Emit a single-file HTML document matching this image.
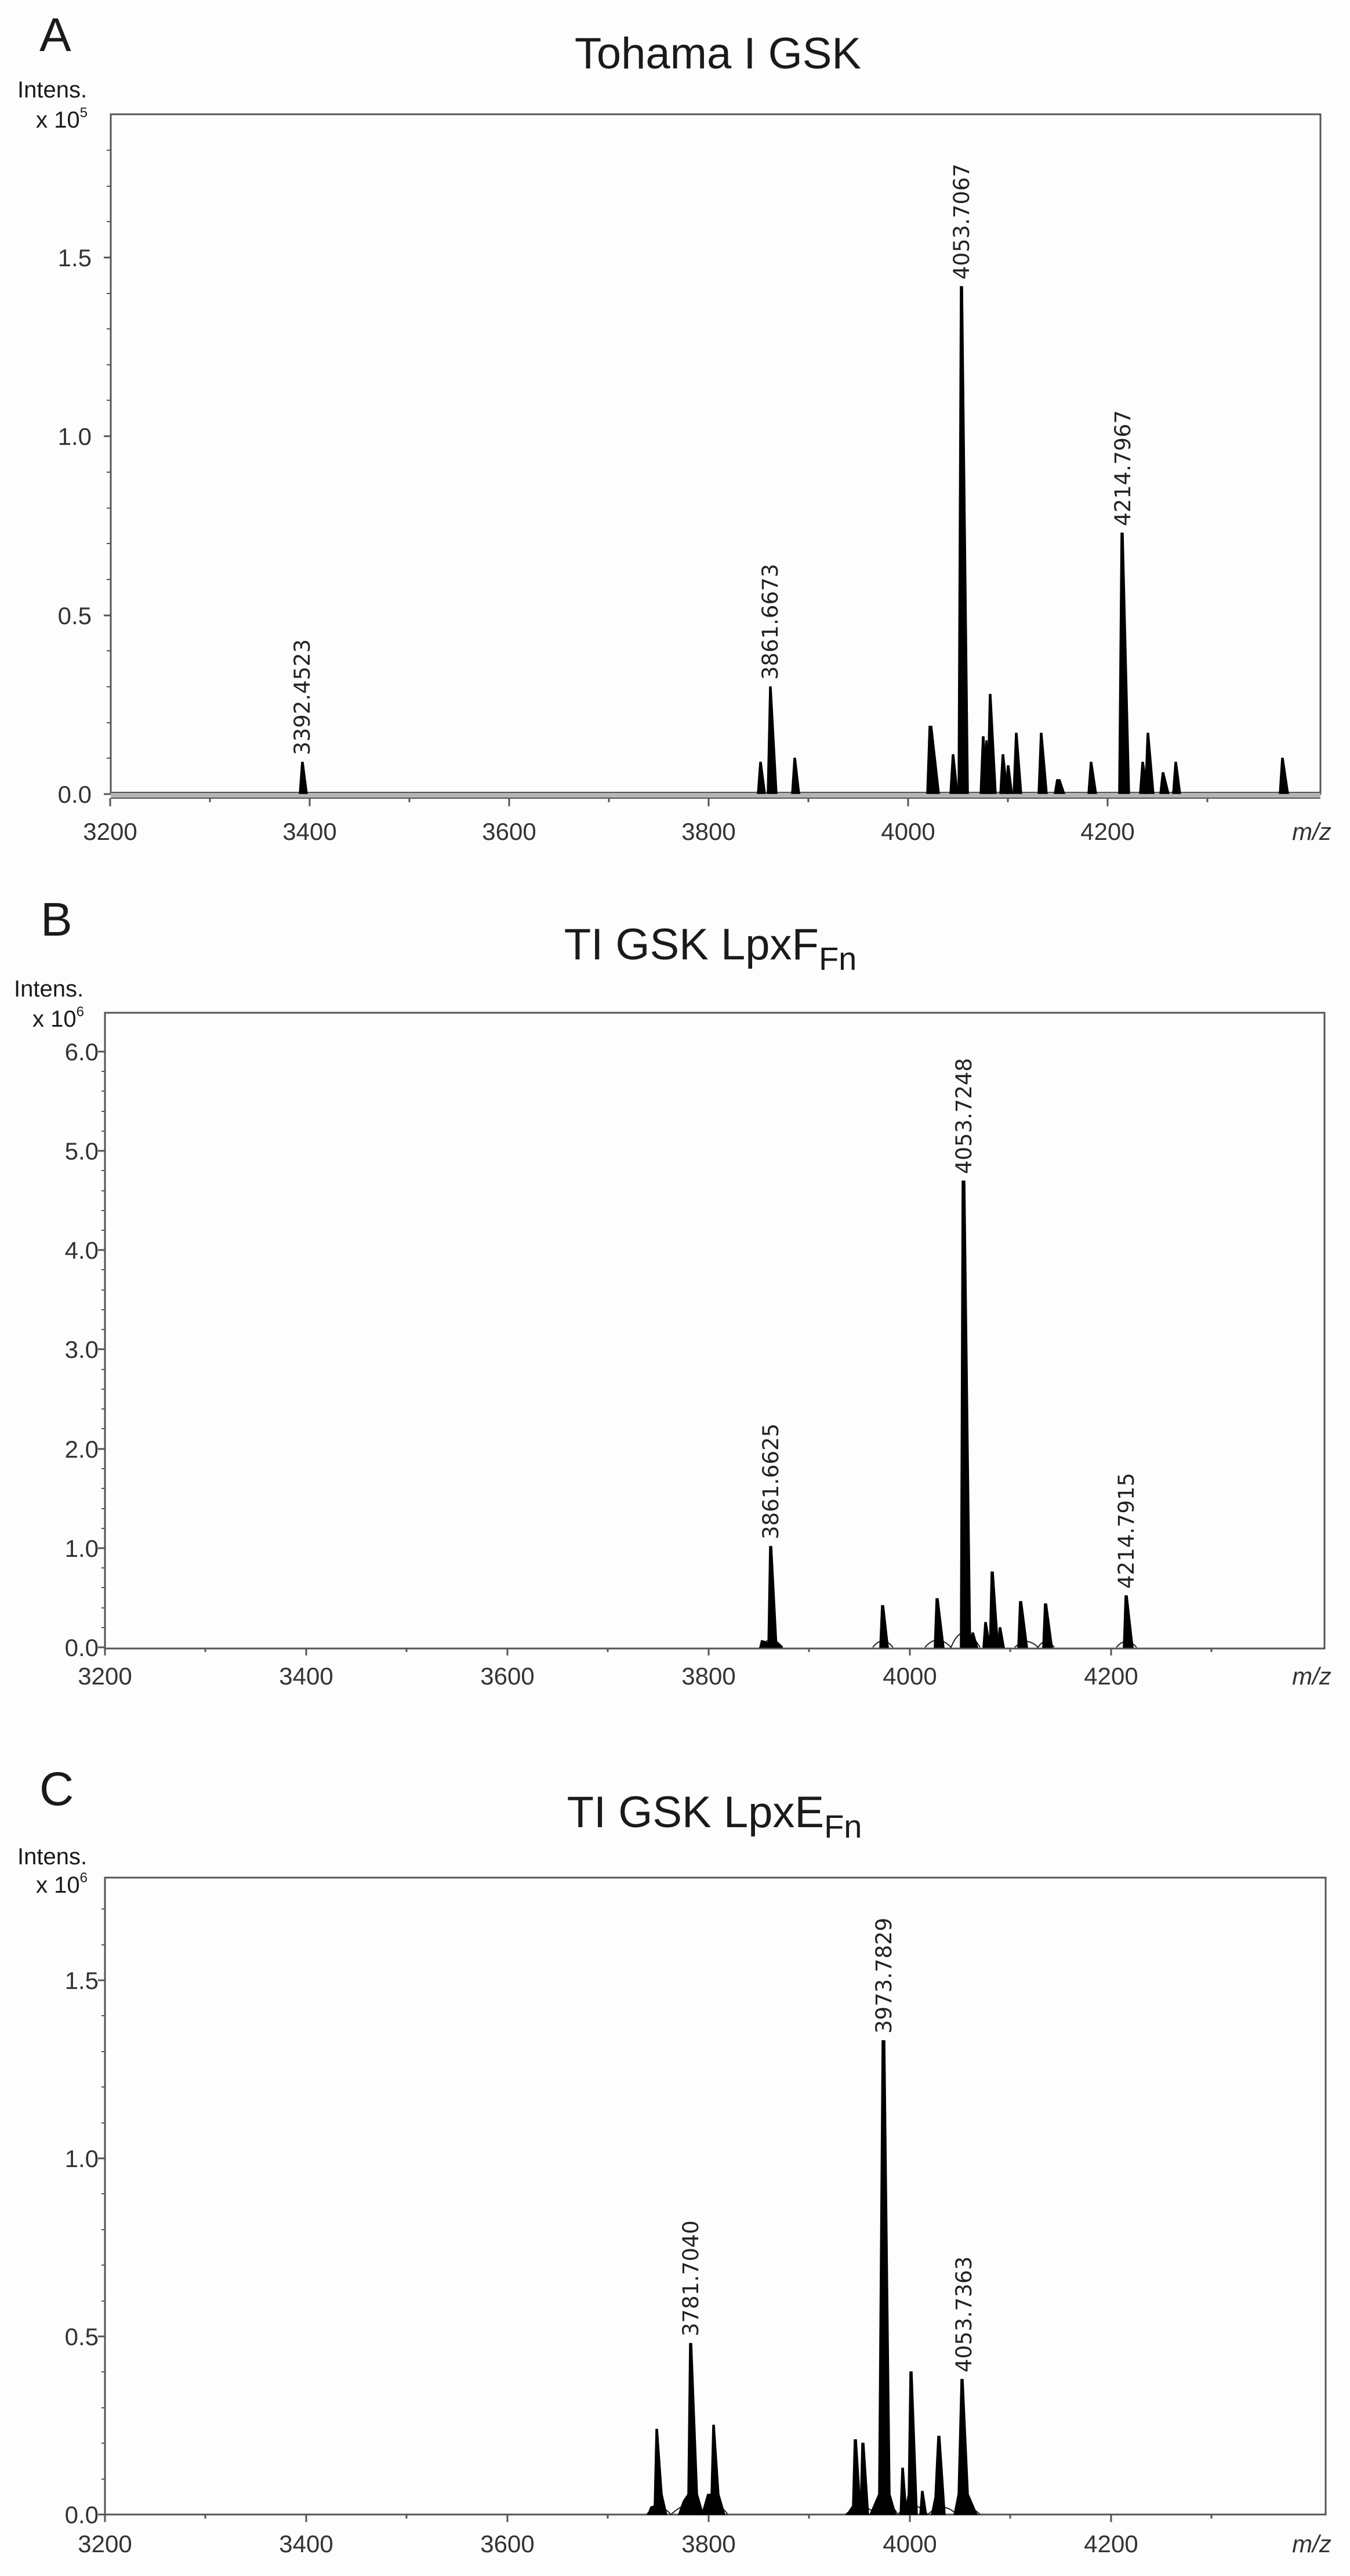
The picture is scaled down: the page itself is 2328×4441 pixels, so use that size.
<!DOCTYPE html>
<html><head><meta charset="utf-8"><style>
html,body{margin:0;padding:0;background:#fdfdfd;}
svg{display:block;}
.t{font-family:"Liberation Sans",sans-serif;fill:#1a1a1a;}
.tk{font-family:"Liberation Sans",sans-serif;font-size:42px;fill:#333;}
.lb{font-family:"DejaVu Sans",sans-serif;font-size:37px;fill:#222;}
.ax{stroke:#555;stroke-width:3;fill:none;}
.pk{fill:#000;stroke:#000;stroke-width:1.5;}
</style></head><body>
<svg width="2328" height="4441" viewBox="0 0 2328 4441" xmlns="http://www.w3.org/2000/svg">
<rect width="2328" height="4441" fill="#fdfdfd"/>

<!-- ================= PANEL A ================= -->
<text class="t" x="68" y="88" font-size="82">A</text>
<text class="t" x="1238" y="118" font-size="76" text-anchor="middle">Tohama I GSK</text>
<text class="t" x="30" y="168" font-size="40">Intens.</text>
<text class="t" x="62" y="220" font-size="40">x 10<tspan font-size="24" dy="-18">5</tspan></text>
<rect x="191" y="197" width="2086" height="1172" fill="none" stroke="#555" stroke-width="3"/>
<rect x="191" y="1366" width="2086" height="10" fill="#b5b5b5"/>
<line x1="191" y1="1366" x2="2277" y2="1366" stroke="#555" stroke-width="2"/>
<line x1="191" y1="1376" x2="2277" y2="1376" stroke="#555" stroke-width="2"/>
<g stroke="#555" stroke-width="3">
<line x1="179" y1="1369" x2="191" y2="1369"/><line x1="179" y1="1061" x2="191" y2="1061"/><line x1="179" y1="752" x2="191" y2="752"/><line x1="179" y1="444" x2="191" y2="444"/>
</g>
<g stroke="#555" stroke-width="2">
<line x1="184" y1="1307" x2="191" y2="1307"/><line x1="184" y1="1246" x2="191" y2="1246"/><line x1="184" y1="1184" x2="191" y2="1184"/><line x1="184" y1="1122" x2="191" y2="1122"/>
<line x1="184" y1="999" x2="191" y2="999"/><line x1="184" y1="937" x2="191" y2="937"/><line x1="184" y1="876" x2="191" y2="876"/><line x1="184" y1="814" x2="191" y2="814"/>
<line x1="184" y1="690" x2="191" y2="690"/><line x1="184" y1="629" x2="191" y2="629"/><line x1="184" y1="567" x2="191" y2="567"/><line x1="184" y1="506" x2="191" y2="506"/>
<line x1="184" y1="382" x2="191" y2="382"/><line x1="184" y1="321" x2="191" y2="321"/><line x1="184" y1="259" x2="191" y2="259"/>
</g>
<g class="tk" text-anchor="end">
<text x="158" y="1384">0.0</text><text x="158" y="1076">0.5</text><text x="158" y="767">1.0</text><text x="158" y="459">1.5</text>
</g>
<g stroke="#555" stroke-width="3">
<line x1="190" y1="1376" x2="190" y2="1390"/><line x1="534" y1="1376" x2="534" y2="1390"/><line x1="878" y1="1376" x2="878" y2="1390"/><line x1="1222" y1="1376" x2="1222" y2="1390"/><line x1="1566" y1="1376" x2="1566" y2="1390"/><line x1="1910" y1="1376" x2="1910" y2="1390"/>
<line x1="362" y1="1376" x2="362" y2="1383"/><line x1="706" y1="1376" x2="706" y2="1383"/><line x1="1050" y1="1376" x2="1050" y2="1383"/><line x1="1394" y1="1376" x2="1394" y2="1383"/><line x1="1738" y1="1376" x2="1738" y2="1383"/><line x1="2082" y1="1376" x2="2082" y2="1383"/>
</g>
<g class="tk" text-anchor="middle">
<text x="190" y="1448">3200</text><text x="534" y="1448">3400</text><text x="878" y="1448">3600</text><text x="1222" y="1448">3800</text><text x="1566" y="1448">4000</text><text x="1910" y="1448">4200</text>
</g>
<text class="tk" x="2262" y="1448" text-anchor="middle" font-style="italic">m/z</text>
<g class="pk">
<polygon points="516,1368 520,1314 523,1314 530,1368"/>
<polygon points="1306,1368 1310,1314 1313,1314 1320,1368"/>
<polygon points="1323,1368 1327,1184 1330,1184 1340,1368"/>
<polygon points="1365,1368 1369,1307 1372,1307 1379,1368"/>
<polygon points="1598,1368 1602,1252 1607,1252 1620,1368"/>
<polygon points="1638,1368 1642,1301 1645,1301 1652,1368"/>
<polygon points="1652,1368 1656,494 1660,494 1670,1368"/>
<polygon points="1690,1368 1694,1270 1697,1270 1703,1368"/>
<polygon points="1696,1368 1700,1277 1702,1277 1708,1368"/>
<polygon points="1702,1368 1706,1197 1709,1197 1718,1368"/>
<polygon points="1724,1368 1728,1301 1731,1301 1738,1368"/>
<polygon points="1734,1368 1737,1320 1740,1320 1746,1368"/>
<polygon points="1747,1368 1751,1264 1754,1264 1762,1368"/>
<polygon points="1790,1368 1794,1264 1797,1264 1806,1368"/>
<polygon points="1818,1368 1822,1344 1828,1344 1836,1368"/>
<polygon points="1876,1368 1880,1314 1883,1314 1891,1368"/>
<polygon points="1929,1368 1933,919 1937,919 1948,1368"/>
<polygon points="1965,1368 1969,1314 1972,1314 1980,1368"/>
<polygon points="1974,1368 1978,1264 1981,1264 1990,1368"/>
<polygon points="2000,1368 2004,1332 2007,1332 2016,1368"/>
<polygon points="2022,1368 2026,1314 2029,1314 2036,1368"/>
<polygon points="2206,1368 2210,1307 2213,1307 2222,1368"/>
</g>
<g class="lb">
<text transform="translate(534,1302) rotate(-90)">3392.4523</text>
<text transform="translate(1341,1172) rotate(-90)">3861.6673</text>
<text transform="translate(1671,482) rotate(-90)">4053.7067</text>
<text transform="translate(1949,907) rotate(-90)">4214.7967</text>
</g>

<!-- ================= PANEL B ================= -->
<text class="t" x="70" y="1613" font-size="82">B</text>
<text class="t" x="1225" y="1654" font-size="76" text-anchor="middle">TI GSK LpxF<tspan font-size="56" dy="18">Fn</tspan></text>
<text class="t" x="24" y="1718" font-size="40">Intens.</text>
<text class="t" x="56" y="1770" font-size="40">x 10<tspan font-size="24" dy="-18">6</tspan></text>
<rect x="181" y="1746" width="2103" height="1096" fill="none" stroke="#555" stroke-width="3"/>
<g stroke="#555" stroke-width="3">
<line x1="169" y1="2840" x2="181" y2="2840"/><line x1="169" y1="2669" x2="181" y2="2669"/><line x1="169" y1="2498" x2="181" y2="2498"/><line x1="169" y1="2326" x2="181" y2="2326"/><line x1="169" y1="2155" x2="181" y2="2155"/><line x1="169" y1="1984" x2="181" y2="1984"/><line x1="169" y1="1813" x2="181" y2="1813"/>
</g>
<g stroke="#555" stroke-width="2">
<line x1="175" y1="2806" x2="181" y2="2806"/><line x1="175" y1="2772" x2="181" y2="2772"/><line x1="175" y1="2737" x2="181" y2="2737"/><line x1="175" y1="2703" x2="181" y2="2703"/>
<line x1="175" y1="2635" x2="181" y2="2635"/><line x1="175" y1="2601" x2="181" y2="2601"/><line x1="175" y1="2566" x2="181" y2="2566"/><line x1="175" y1="2532" x2="181" y2="2532"/>
<line x1="175" y1="2463" x2="181" y2="2463"/><line x1="175" y1="2429" x2="181" y2="2429"/><line x1="175" y1="2395" x2="181" y2="2395"/><line x1="175" y1="2361" x2="181" y2="2361"/>
<line x1="175" y1="2292" x2="181" y2="2292"/><line x1="175" y1="2258" x2="181" y2="2258"/><line x1="175" y1="2224" x2="181" y2="2224"/><line x1="175" y1="2189" x2="181" y2="2189"/>
<line x1="175" y1="2121" x2="181" y2="2121"/><line x1="175" y1="2087" x2="181" y2="2087"/><line x1="175" y1="2053" x2="181" y2="2053"/><line x1="175" y1="2018" x2="181" y2="2018"/>
<line x1="175" y1="1950" x2="181" y2="1950"/><line x1="175" y1="1916" x2="181" y2="1916"/><line x1="175" y1="1881" x2="181" y2="1881"/><line x1="175" y1="1847" x2="181" y2="1847"/>
</g>
<g class="tk" text-anchor="end">
<text x="170" y="2855">0.0</text><text x="170" y="2684">1.0</text><text x="170" y="2513">2.0</text><text x="170" y="2341">3.0</text><text x="170" y="2170">4.0</text><text x="170" y="1999">5.0</text><text x="170" y="1828">6.0</text>
</g>
<g stroke="#555" stroke-width="3">
<line x1="181" y1="2842" x2="181" y2="2854"/><line x1="528" y1="2842" x2="528" y2="2854"/><line x1="875" y1="2842" x2="875" y2="2854"/><line x1="1222" y1="2842" x2="1222" y2="2854"/><line x1="1569" y1="2842" x2="1569" y2="2854"/><line x1="1916" y1="2842" x2="1916" y2="2854"/>
<line x1="354" y1="2842" x2="354" y2="2848"/><line x1="701" y1="2842" x2="701" y2="2848"/><line x1="1048" y1="2842" x2="1048" y2="2848"/><line x1="1395" y1="2842" x2="1395" y2="2848"/><line x1="1742" y1="2842" x2="1742" y2="2848"/><line x1="2089" y1="2842" x2="2089" y2="2848"/>
</g>
<g class="tk" text-anchor="middle">
<text x="181" y="2904">3200</text><text x="528" y="2904">3400</text><text x="875" y="2904">3600</text><text x="1222" y="2904">3800</text><text x="1569" y="2904">4000</text><text x="1916" y="2904">4200</text>
</g>
<text class="tk" x="2262" y="2904" text-anchor="middle" font-style="italic">m/z</text>
<g fill="none" stroke="#222" stroke-width="2">
<path d="M1310,2840 Q1329,2815 1350,2840"/><path d="M1505,2840 Q1522,2818 1540,2840"/><path d="M1595,2840 Q1616,2815 1640,2840 Q1660,2790 1690,2840"/><path d="M1750,2840 Q1770,2820 1790,2840 Q1803,2820 1818,2840"/><path d="M1925,2840 Q1942,2820 1960,2840"/>
</g>
<g class="pk">
<polygon points="1310,2840 1313,2828 1320,2830 1328,2835 1340,2830 1348,2840"/>
<polygon points="1324,2840 1327,2666 1331,2666 1340,2840"/>
<polygon points="1517,2840 1520,2768 1524,2768 1532,2840"/>
<polygon points="1611,2840 1614,2756 1618,2756 1628,2840"/>
<polygon points="1656,2840 1659,2036 1664,2036 1674,2840"/>
<polygon points="1672,2840 1676,2815 1679,2815 1686,2840"/>
<polygon points="1695,2840 1698,2797 1701,2797 1708,2840"/>
<polygon points="1706,2840 1709,2710 1713,2710 1722,2840"/>
<polygon points="1720,2840 1723,2806 1726,2806 1732,2840"/>
<polygon points="1755,2840 1758,2761 1762,2761 1772,2840"/>
<polygon points="1798,2840 1801,2765 1805,2765 1815,2840"/>
<polygon points="1937,2840 1940,2751 1944,2751 1954,2840"/>
</g>
<g class="lb">
<text transform="translate(1342,2654) rotate(-90)">3861.6625</text>
<text transform="translate(1675,2024) rotate(-90)">4053.7248</text>
<text transform="translate(1955,2739) rotate(-90)">4214.7915</text>
</g>

<!-- ================= PANEL C ================= -->
<text class="t" x="68" y="3112" font-size="82">C</text>
<text class="t" x="1232" y="3150" font-size="76" text-anchor="middle">TI GSK LpxE<tspan font-size="56" dy="18">Fn</tspan></text>
<text class="t" x="30" y="3214" font-size="40">Intens.</text>
<text class="t" x="62" y="3263" font-size="40">x 10<tspan font-size="24" dy="-18">6</tspan></text>
<rect x="181" y="3237" width="2105" height="1098" fill="none" stroke="#555" stroke-width="3"/>
<g stroke="#555" stroke-width="3">
<line x1="169" y1="4335" x2="181" y2="4335"/><line x1="169" y1="4028" x2="181" y2="4028"/><line x1="169" y1="3721" x2="181" y2="3721"/><line x1="169" y1="3414" x2="181" y2="3414"/>
</g>
<g stroke="#555" stroke-width="2">
<line x1="175" y1="4274" x2="181" y2="4274"/><line x1="175" y1="4212" x2="181" y2="4212"/><line x1="175" y1="4151" x2="181" y2="4151"/><line x1="175" y1="4089" x2="181" y2="4089"/>
<line x1="175" y1="3967" x2="181" y2="3967"/><line x1="175" y1="3905" x2="181" y2="3905"/><line x1="175" y1="3844" x2="181" y2="3844"/><line x1="175" y1="3782" x2="181" y2="3782"/>
<line x1="175" y1="3660" x2="181" y2="3660"/><line x1="175" y1="3598" x2="181" y2="3598"/><line x1="175" y1="3537" x2="181" y2="3537"/><line x1="175" y1="3475" x2="181" y2="3475"/>
<line x1="175" y1="3353" x2="181" y2="3353"/><line x1="175" y1="3291" x2="181" y2="3291"/>
</g>
<g class="tk" text-anchor="end">
<text x="170" y="4350">0.0</text><text x="170" y="4043">0.5</text><text x="170" y="3736">1.0</text><text x="170" y="3429">1.5</text>
</g>
<g stroke="#555" stroke-width="3">
<line x1="181" y1="4335" x2="181" y2="4348"/><line x1="528" y1="4335" x2="528" y2="4348"/><line x1="875" y1="4335" x2="875" y2="4348"/><line x1="1222" y1="4335" x2="1222" y2="4348"/><line x1="1569" y1="4335" x2="1569" y2="4348"/><line x1="1916" y1="4335" x2="1916" y2="4348"/>
<line x1="354" y1="4335" x2="354" y2="4342"/><line x1="701" y1="4335" x2="701" y2="4342"/><line x1="1048" y1="4335" x2="1048" y2="4342"/><line x1="1395" y1="4335" x2="1395" y2="4342"/><line x1="1742" y1="4335" x2="1742" y2="4342"/><line x1="2089" y1="4335" x2="2089" y2="4342"/>
</g>
<g class="tk" text-anchor="middle">
<text x="181" y="4400">3200</text><text x="528" y="4400">3400</text><text x="875" y="4400">3600</text><text x="1222" y="4400">3800</text><text x="1569" y="4400">4000</text><text x="1916" y="4400">4200</text>
</g>
<text class="tk" x="2262" y="4400" text-anchor="middle" font-style="italic">m/z</text>
<g fill="none" stroke="#222" stroke-width="2">
<path d="M1115,4335 Q1136,4310 1157,4335 Q1195,4300 1215,4335 Q1235,4305 1255,4335"/>
<path d="M1458,4335 Q1485,4310 1512,4335 Q1530,4300 1548,4335 Q1575,4305 1600,4335 Q1625,4310 1650,4335 Q1665,4310 1690,4335"/>
</g>
<g class="pk">
<polygon points="1117,4335 1122,4322 1128,4320 1131,4188 1134,4188 1142,4300 1150,4335"/>
<polygon points="1170,4335 1178,4312 1186,4300 1189,4040 1193,4040 1203,4300 1213,4335"/>
<polygon points="1196,4335 1199,4305 1202,4305 1208,4335"/>
<polygon points="1210,4335 1220,4300 1226,4300 1229,4181 1232,4181 1240,4300 1250,4335"/>
<polygon points="1460,4335 1470,4320 1473,4206 1477,4206 1485,4335"/>
<polygon points="1483,4335 1486,4212 1490,4212 1498,4335"/>
<polygon points="1500,4335 1515,4300 1521,3518 1526,3518 1535,4300 1545,4335"/>
<polygon points="1552,4335 1555,4255 1558,4255 1564,4335"/>
<polygon points="1560,4335 1566,4300 1569,4089 1573,4089 1582,4335"/>
<polygon points="1586,4335 1589,4295 1592,4295 1598,4335"/>
<polygon points="1606,4335 1612,4305 1617,4200 1621,4200 1630,4335"/>
<polygon points="1645,4335 1652,4300 1657,4102 1661,4102 1670,4300 1685,4335"/>
</g>
<g class="lb">
<text transform="translate(1204,4028) rotate(-90)">3781.7040</text>
<text transform="translate(1537,3506) rotate(-90)">3973.7829</text>
<text transform="translate(1675,4090) rotate(-90)">4053.7363</text>
</g>
</svg>
</body></html>
